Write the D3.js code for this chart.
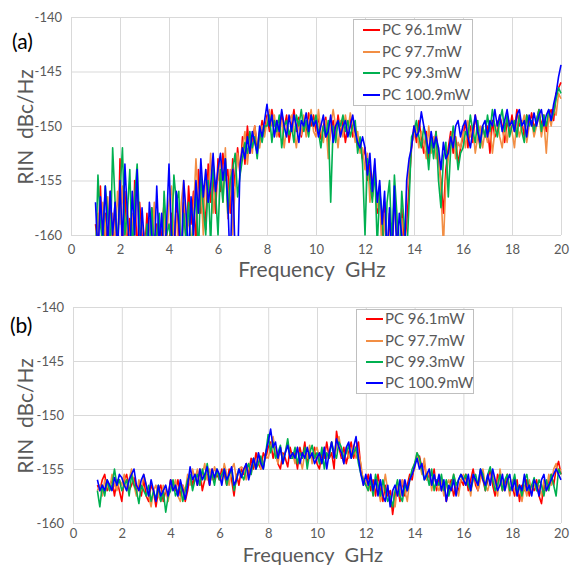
<!DOCTYPE html>
<html><head><meta charset="utf-8">
<script src="https://cdn.jsdelivr.net/npm/d3@7"></script>
<style>body{margin:0;background:#fff}svg{display:block}text{font-family:Lato,"Open Sans",sans-serif}.pre{white-space:pre}</style>
</head><body><svg id="c" width="570" height="566"></svg>
<script>
const freqs = d3.range(0, 191).map(i => +(1 + i * 0.1).toFixed(1));
const xTicks = [0,2,4,6,8,10,12,14,16,18,20];
const yTicks = [-140,-145,-150,-155,-160];
const seriesNames = ["PC 96.1mW","PC 97.7mW","PC 99.3mW","PC 100.9mW"];
const seriesColors = ["#ff0000","#f28e44","#00b050","#0000ff"];

const aRed = [-159,-161,-155.5,-162,-158,-163,-156,-161,-157,-163,
-153,-162,-156,-161,-158.5,-163,-155,-162,-157,-160,
-162,-158,-163,-157.5,-161,-159,-163,-160,-157,-162,
-161,-158,-163,-156.5,-160,-162,-157,-161,-155.5,-159,
-156,-161,-154,-158,-155.5,-159.5,-153.5,-157,-154.5,-158,
-153,-156,-152.5,-155,-154,-158,-153,-155.5,-152,-154.5,
-151,-153.5,-150,-152.5,-151.5,-150,-152,-151,-149.5,-150.5,
-149,-150.5,-148.5,-150,-149.5,-151,-148.8,-150.2,-149,-151.5,
-150,-148.5,-150.5,-149.2,-151,-149.5,-150.8,-148.8,-150,-149,
-150.5,-149,-151.2,-150,-149.2,-152,-150.5,-149.5,-151,-149,
-150.5,-149.5,-151.5,-150,-149.3,-151,-150,-152,-151.5,-153,
-152,-155,-153.5,-156.5,-154,-158,-155.5,-161,-157,-163,
-158,-162,-156,-160,-163,-157.5,-161,-159,-155.5,-152,
-150,-151.5,-149.5,-151,-152.5,-150.5,-153,-151,-152,-150.5,
-153,-155,-158,-154,-152,-150.5,-152.5,-151,-153.5,-152,
-151,-149.5,-152,-150,-151.5,-149,-150.5,-152,-150,-151,
-150,-152.5,-149.5,-151,-150.5,-149,-150,-151.5,-149.5,-150.5,
-149,-150.5,-148.5,-150,-149.5,-151,-149,-150,-148.8,-150.2,
-149.5,-148.5,-150,-149,-150.5,-149,-148.5,-149.5,-147,-146.5,
-146];
const aOrange = [-161,-158,-163,-157,-160,-156.5,-162,-158,-161,-156,
-159,-155.5,-162,-157,-163,-158,-160.5,-155,-161,-159,
-160,-163,-158.5,-161,-157,-162,-159,-163,-158,-161,
-157,-155.5,-160,-158,-162,-157,-155,-160,-158.5,-161,
-158,-153,-157,-155.5,-160,-154,-156.5,-152.5,-158,-155,
-155,-153,-157,-152,-158.5,-154,-160,-155.5,-152.5,-154,
-152,-150.5,-153.5,-151,-152.5,-150,-151.5,-152,-150,-151,
-149.5,-148.5,-150,-149,-151,-150,-149.5,-152,-150,-149.5,
-149,-150.5,-152,-149.5,-150.8,-149,-151,-150,-148.5,-150.5,
-151,-148.5,-150.5,-151.5,-149.5,-153,-150,-148.5,-150,-152,
-149.5,-151,-149,-150.5,-148.8,-150,-151.5,-150.5,-152.5,-152,
-154,-152.5,-157,-155,-153.5,-157.5,-156,-162,-158,-163,
-160,-163,-157,-159,-162,-158.5,-163,-156,-154,-151.5,
-151,-150,-152,-150.5,-151.5,-153,-150,-152.5,-151,-153,
-152,-156,-161,-155,-153,-151,-150.5,-153,-151.5,-152,
-150.5,-152,-149.5,-151,-150,-152.5,-151,-150,-152,-150.5,
-151.5,-150,-152.5,-150.5,-149.5,-151,-152,-150,-151.5,-149.5,
-150.5,-152,-149.5,-151,-150,-149,-151.5,-150,-149.5,-151,
-150,-149,-151,-149.5,-152.5,-149,-150,-148.5,-149,-147,
-147.5];
const aGreen = [-163,-154.5,-159,-161,-155.5,-158,-162,-152,-157,-161,
-156,-152,-160,-158,-154,-162,-156.5,-153.5,-159,-162,
-163,-159,-161,-157.5,-162,-160,-158,-163,-156,-160,
-159,-161,-154.5,-157,-156,-163,-158,-160.5,-157,-162,
-159,-156,-162,-154.5,-157.5,-160,-155,-161,-153.5,-156,
-160,-154,-157,-153,-158,-155,-154,-152.5,-156.5,-154.5,
-153,-151.5,-152.5,-150.5,-152,-151,-153,-150.5,-151.5,-150,
-150,-149,-151.5,-149.5,-150.5,-149,-152,-150,-149.5,-150.8,
-150,-151.5,-149,-150,-148.5,-150.5,-149.5,-151,-149,-150,
-149,-150.5,-152,-150,-151,-149.5,-157,-150,-151.5,-149.5,
-150,-149,-150.5,-149.5,-151,-150,-149.5,-152.5,-151,-153.5,
-160,-153,-155,-157,-154,-161,-156,-158,-163,-157,
-155,-161,-154.5,-158,-163,-156,-159,-162,-157,-151,
-150.5,-149.5,-151,-152,-150,-151.5,-154,-151,-153,-150.5,
-155,-157.5,-153,-151.5,-156.5,-152,-150,-151.5,-154,-152.5,
-152,-150.5,-151,-149,-150.5,-151.5,-149.5,-152,-150,-151,
-149,-150.5,-148.5,-150,-151,-149.5,-148.5,-150.5,-149,-151,
-150,-149.5,-151,-149,-150.5,-151.5,-149,-150,-149.5,-150.5,
-149.5,-148.5,-150.5,-149,-150,-148.5,-149.5,-148.8,-147.5,-146.5,
-147];
const aBlue = [-157,-162,-156.5,-160,-155.5,-161,-156,-160,-157,-162,
-155,-161,-153.5,-158,-162,-156,-160,-154,-163,-157.5,
-161,-163,-157,-160,-162,-155.5,-161,-158,-163,-159,
-153.5,-160,-162,-156,-159,-163,-155,-158,-162,-156.5,
-160,-155,-158,-153,-156.5,-154,-157,-155.5,-152.5,-156,
-154,-152.5,-155,-153,-157,-163,-154,-162,-163,-153.5,
-152,-153,-151,-152.5,-150.5,-151.5,-152.5,-150,-151,-149.5,
-148,-150,-149,-151,-149.5,-150.5,-148.5,-150,-151,-149,
-150.5,-149,-150,-151.5,-149.5,-150,-148.8,-150.5,-149,-150,
-149.5,-151,-150,-149,-151,-150.5,-149,-151.5,-150,-149.5,
-151,-150,-149.5,-151,-150,-149,-150.5,-151.5,-152,-151,
-152,-154.5,-152.5,-156,-153,-157,-155,-159,-156,-162,
-157.5,-163,-155.5,-162,-158,-160,-163,-155,-153,-152,
-150,-151,-150.5,-148.7,-150,-151,-152.5,-150.5,-152,-151,
-152,-154,-151.5,-153,-152.5,-151,-152,-150,-149.5,-151,
-150,-149.5,-151,-152,-150.5,-149,-150.5,-151.5,-150,-149.5,
-151,-149.5,-150,-148.5,-150,-149,-150.5,-149.5,-148.5,-150,
-149.5,-150.5,-149,-148.5,-150,-149.5,-151,-149,-150,-148.8,
-150,-149,-148.5,-150,-149,-148.5,-149.5,-148,-147,-145.5,
-144.4];

const bRed = [-156.5,-157,-156,-155.5,-157,-156.5,-156,-157.5,-156,-157,
-158,-156,-155.5,-157,-156.5,-155.8,-157,-156.5,-157.5,-156,
-157.5,-158,-156.5,-157,-158.5,-157,-156.5,-158,-157,-157.5,
-156,-156.5,-157,-156,-157.5,-156.5,-158,-157,-155.5,-156.5,
-155.5,-156.5,-155,-157,-156,-155.5,-156.5,-155,-156,-155.5,
-156,-155,-155.5,-156.5,-155,-156,-157.5,-155.5,-156.5,-155,
-155.5,-154.5,-155.5,-154,-155,-153.5,-154.5,-155,-153.5,-154,
-153,-152.5,-154,-153,-154.5,-155,-153.5,-154,-154.8,-153,
-154,-153.5,-155,-153,-154,-152.5,-154.5,-153.5,-154,-153,
-154.5,-155,-153.5,-154,-152.5,-154,-153.5,-155,-151.5,-153,
-154,-153,-154.5,-153.5,-152.5,-154,-153,-152.5,-155,-156,
-156.5,-155.5,-157,-156,-157.5,-155.5,-157,-158,-156.5,-157.5,
-157,-159.2,-157.5,-156.5,-158,-156,-157.5,-156.5,-155.5,-156,
-154.5,-154,-153.8,-155,-154.5,-156,-155.5,-156.5,-155,-157,
-156,-157,-156.5,-158,-157,-156,-157.5,-156.5,-157,-156,
-156.5,-155.5,-157,-156,-155,-156.5,-157,-155.5,-156,-157,
-156,-155,-156.5,-157.5,-155.5,-156,-157,-156.5,-155.5,-157,
-156.5,-157.5,-156,-158,-156.5,-157,-156,-157.5,-156.5,-157,
-156,-157.5,-158.2,-156.5,-157,-156,-155.5,-156.5,-155,-154.3,
-155.5];
const bOrange = [-157,-156.5,-157.5,-156,-156.5,-157,-155.5,-156.5,-157,-156,
-156.5,-155.5,-157,-156,-155,-156.5,-157.5,-156,-157,-155.5,
-156.5,-157.5,-158.5,-157,-156.5,-157.5,-158,-156.5,-157,-158,
-156.5,-157,-156,-157.5,-158,-156.5,-157,-155.5,-156.5,-155,
-156,-155,-156.5,-155.5,-154.5,-156,-155,-156,-154.8,-155.5,
-155.5,-156,-154.5,-155.5,-156.5,-155,-154.5,-156,-155,-154.8,
-155,-156,-154.5,-155.5,-154,-155,-153.5,-155,-154.5,-153.8,
-154,-153,-152,-153.5,-154.5,-153,-154,-153.5,-152.5,-154,
-153.5,-154.5,-153,-154,-155,-153.5,-154,-152.8,-154.5,-153.5,
-153,-154,-154.5,-153,-154,-153.5,-152.5,-154,-153,-152,
-153.5,-154.5,-153,-154,-153.5,-152.8,-154,-153.5,-154.5,-156.5,
-156,-157,-155.5,-157.5,-156,-156.5,-158,-157,-155.5,-157,
-158,-157,-158.5,-156.5,-157.5,-156,-157,-158,-156,-155.5,
-155,-153.5,-154.5,-155.5,-154,-156,-155,-157,-155.5,-156.5,
-157,-156,-157.5,-156.5,-156,-157,-155.5,-156.5,-157.5,-156,
-155.5,-156.5,-156,-157.5,-155.5,-156,-157,-156,-155,-156.5,
-157,-156,-155.5,-156.5,-157.5,-155,-156.5,-157,-156,-157.5,
-156,-157,-157.5,-156.5,-158,-156.5,-157.5,-156,-157,-156.5,
-157,-156.5,-157.5,-156,-157,-155.5,-156.5,-155,-154.5,-155.5,
-155];
const bGreen = [-157,-158.5,-156.5,-157.5,-156,-157,-156.5,-155,-156.5,-156,
-157,-156.5,-156,-157.5,-155.5,-156.5,-157,-158.2,-156.5,-157,
-157.5,-156.5,-158,-157,-157.8,-156.5,-158,-157,-159,-157.5,
-157,-156,-157.5,-157,-156.5,-158,-157,-156,-155.5,-157,
-156,-155.5,-156.5,-155,-156,-154.5,-156,-155.5,-156.5,-155,
-156,-155.5,-155,-156.5,-155.5,-155,-157,-156,-155,-155.5,
-156,-155,-154.5,-155.5,-154,-155,-154.5,-153.8,-155,-153.5,
-151.8,-153.5,-152.5,-154,-153.5,-152.8,-154.5,-153.5,-152.2,-154,
-154,-153,-154.5,-153.5,-154,-153,-155,-153.5,-152.8,-154,
-153.5,-154.5,-153,-155,-153.5,-154,-152.5,-153.5,-154,-152.5,
-153,-154,-153.5,-152.8,-154,-153.5,-153,-154.5,-155.5,-156,
-156.5,-157,-156,-157.5,-155.5,-156.5,-157.5,-156,-157,-158,
-157.5,-158.5,-157,-156,-157.5,-158,-156.5,-157,-156,-155,
-154.5,-153.5,-154,-155,-156,-155.5,-156.5,-155,-157,-156,
-156.5,-155.5,-157,-156,-157.5,-156.5,-155.5,-156.5,-156,-155.5,
-156,-155.5,-156.5,-157,-156,-155.5,-156.5,-155,-155.5,-157,
-155.5,-154.8,-156,-157,-156.5,-155.5,-157,-156,-155.5,-157,
-156.5,-155.5,-157,-156.5,-157.5,-156,-155.5,-157,-156.5,-155.8,
-157,-156,-156.5,-157.5,-156,-157,-155.5,-156.5,-157.5,-155,
-155.5];
const bBlue = [-156,-157,-156.5,-157,-156,-156.5,-157,-155.8,-156.5,-155.5,
-155.8,-156.5,-157,-156,-155.5,-155,-156.5,-157,-156,-155.5,
-156.5,-157.5,-156,-157,-158,-156.5,-157.5,-157,-156.5,-157.5,
-156,-157,-156.5,-157.5,-156,-157,-157.8,-156.5,-154.8,-156,
-155.5,-156.5,-155,-156,-155.5,-154.8,-156.5,-155,-155.8,-155,
-155.5,-156.5,-155,-156,-155.5,-154.8,-156.5,-156,-155,-155.8,
-155,-154.5,-156,-155,-154,-155,-153.5,-154.5,-155,-153.5,
-152.5,-151.3,-153,-152.5,-154,-153,-154.5,-153.5,-152.8,-154,
-153.5,-154,-153,-154.5,-153.5,-154,-153,-154,-153.5,-154.5,
-154,-153.5,-154.5,-153,-155,-153.5,-152.5,-154,-152.2,-153,
-153.5,-154.5,-153,-152.5,-154,-153,-152,-154,-155.5,-156.5,
-155.5,-156.5,-155.5,-157,-156,-157.5,-156,-157.5,-158,-156.5,
-158.5,-157,-156.5,-157.5,-156,-157.5,-156,-157,-156,-155.5,
-154.8,-154,-155,-154.5,-156,-155.5,-155,-156.5,-155.5,-156.5,
-155.5,-157,-156,-158,-156.5,-157,-156,-157.5,-156,-155.5,
-156,-156.5,-155.5,-157,-155.5,-156,-156.5,-155,-156,-156.5,
-155.5,-156.5,-155,-156,-157,-156.5,-155.5,-157,-156,-155.5,
-157,-156,-157.5,-156.5,-157,-155.5,-157,-156.5,-157.5,-156,
-156.5,-157.5,-156,-155.5,-157,-156.5,-156,-155.5,-155,-155.5,
-156];

const panels = [
  {label:"(a)", data:[aRed,aOrange,aGreen,aBlue], x0:71, x1:561, y0:17, y1:235, tickPad:10, titleSize:21,
   labelPos:[12,49], yTitleX:26, xTitleY:277, legend:{x:353,y:19,w:119,h:86,rows:[30,52,73,95],lx:363}},
  {label:"(b)", data:[bRed,bOrange,bGreen,bBlue], x0:73, x1:561, y0:307, y1:523, tickPad:6, titleSize:20,
   labelPos:[10,333], yTitleX:26, xTitleY:561.5, legend:{x:356,y:309,w:117,h:84,rows:[319,341,362,383],lx:366}}
];

const svg = d3.select("#c");
panels.forEach((p, pi) => {
  const x = d3.scaleLinear().domain([0,20]).range([p.x0,p.x1]);
  const y = d3.scaleLinear().domain([-160,-140]).range([p.y1,p.y0]);
  const g = svg.append("g");
  g.append("g").attr("transform",`translate(0,${p.y1})`)
    .call(d3.axisBottom(x).tickValues(xTicks).tickSize(-(p.y1-p.y0)).tickFormat(d=>d).tickPadding(p.tickPad))
    .call(s=>{s.select(".domain").remove();s.selectAll("line").attr("stroke","#d9d9d9");
      s.selectAll("text").attr("fill","#595959").attr("font-size","13px");});
  g.append("g").attr("transform",`translate(${p.x0},0)`)
    .call(d3.axisLeft(y).tickValues(yTicks).tickSize(-(p.x1-p.x0)).tickFormat(d=>d).tickPadding(9))
    .call(s=>{s.select(".domain").remove();s.selectAll("line").attr("stroke","#d9d9d9");
      s.selectAll("text").attr("fill","#595959").attr("font-size","13px");});
  const cid = "clip"+pi;
  svg.append("clipPath").attr("id",cid).append("rect")
    .attr("x",p.x0).attr("y",p.y0-2).attr("width",p.x1-p.x0+1).attr("height",p.y1-p.y0+3);
  const line = d3.line().x((d,i)=>x(freqs[i])).y(d=>y(d));
  const lg = g.append("g").attr("clip-path",`url(#${cid})`);
  p.data.forEach((s,si)=>{
    lg.append("path").datum(s).attr("d",line).attr("fill","none")
      .attr("stroke",seriesColors[si]).attr("stroke-width",1.6).attr("stroke-linejoin","round");
  });
  g.append("text").attr("class","pre").attr("x",(p.x0+p.x1)/2-4).attr("y",p.xTitleY).attr("text-anchor","middle")
    .attr("font-size",p.titleSize+"px").attr("fill","#595959").text("Frequency  GHz");
  g.append("text").attr("class","pre").attr("transform",`translate(${p.yTitleX+7},${(p.y0+p.y1)/2+1}) rotate(-90)`)
    .attr("text-anchor","middle").attr("font-size","21px").attr("fill","#595959").text("RIN  dBc/Hz");
  g.append("text").attr("x",p.labelPos[0]).attr("y",p.labelPos[1]).attr("font-size","21px")
    .attr("fill","#000").text(p.label);
  const L = p.legend;
  g.append("rect").attr("x",L.x+0.5).attr("y",L.y+0.5).attr("width",L.w).attr("height",L.h)
    .attr("fill","#fff").attr("stroke","#bfbfbf");
  seriesNames.forEach((n,i)=>{
    g.append("line").attr("x1",L.lx).attr("x2",L.lx+17).attr("y1",L.rows[i]).attr("y2",L.rows[i])
      .attr("stroke",seriesColors[i]).attr("stroke-width",2);
    g.append("text").attr("x",L.lx+19).attr("y",L.rows[i]+5).attr("font-size","15px")
      .attr("fill","#595959").text(n);
  });
});
</script></body></html>
